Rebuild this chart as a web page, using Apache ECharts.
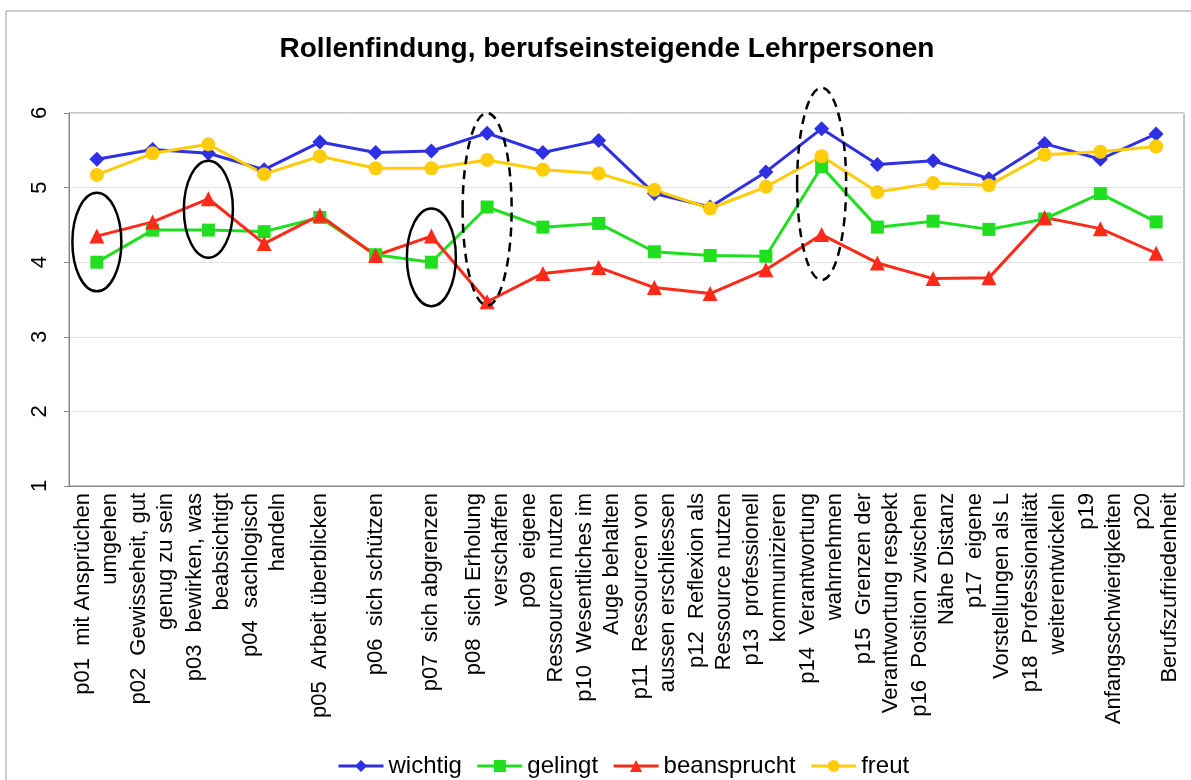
<!DOCTYPE html>
<html>
<head>
<meta charset="utf-8">
<title>Rollenfindung</title>
<script src="https://cdn.jsdelivr.net/npm/echarts@6/dist/echarts.min.js"></script>
<style>
  html, body { margin: 0; padding: 0; background: #fff; }
  #chart { width: 1191px; height: 780px; }
</style>
</head>
<body>
<div id="chart"></div>
<script>
// Kategorien (x-Achse)
var categories = [
  "p01  mit Ansprüchen\numgehen",
  "p02  Gewisseheit, gut\ngenug zu sein",
  "p03  bewirken, was\nbeabsichtigt",
  "p04  sachlogisch\nhandeln",
  "p05  Arbeit überblicken",
  "p06  sich schützen",
  "p07  sich abgrenzen",
  "p08  sich Erholung\nverschaffen",
  "p09  eigene\nRessourcen nutzen",
  "p10  Wesentliches im\nAuge behalten",
  "p11  Ressourcen von\naussen erschliessen",
  "p12  Reflexion als\nRessource nutzen",
  "p13  professionell\nkommunizieren",
  "p14  Verantwortung\nwahrnehmen",
  "p15  Grenzen der\nVerantwortung respekt",
  "p16  Position zwischen\nNähe Distanz",
  "p17  eigene\nVorstellungen als L",
  "p18  Professionalität\nweiterentwickeln",
  "p19\nAnfangsschwierigkeiten",
  "p20\nBerufszufriedenheit"
];

var yTicks = [1, 2, 3, 4, 5, 6];

var wichtig     = [5.38, 5.51, 5.46, 5.24, 5.61, 5.47, 5.49, 5.73, 5.47, 5.63, 4.92, 4.74, 5.21, 5.79, 5.31, 5.36, 5.12, 5.59, 5.38, 5.72];
var gelingt     = [4.00, 4.43, 4.43, 4.41, 4.60, 4.10, 4.00, 4.74, 4.47, 4.52, 4.14, 4.09, 4.08, 5.28, 4.47, 4.55, 4.44, 4.58, 4.92, 4.54];
var beansprucht = [4.35, 4.54, 4.85, 4.25, 4.63, 4.09, 4.35, 3.47, 3.85, 3.93, 3.66, 3.58, 3.90, 4.37, 3.99, 3.78, 3.79, 4.60, 4.45, 4.12];
var freut       = [5.17, 5.46, 5.58, 5.18, 5.42, 5.26, 5.26, 5.37, 5.24, 5.19, 4.97, 4.72, 5.01, 5.42, 4.94, 5.06, 5.03, 5.44, 5.48, 5.55];

// eingekreiste Stellen: Kategorie-Index, Wertebereich unten/oben, gestrichelt
var circled = [
  { idx: 0,  lo: 3.61, hi: 4.93, dashed: false },
  { idx: 2,  lo: 4.06, hi: 5.36, dashed: false },
  { idx: 6,  lo: 3.41, hi: 4.72, dashed: false },
  { idx: 7,  lo: 3.42, hi: 6.00, dashed: true },
  { idx: 13, lo: 3.76, hi: 6.34, dashed: true }
];

var font = "Liberation Sans, Arial, sans-serif";

var chart = echarts.init(document.getElementById("chart"));

function lineSeries(name, data, color, symbol, size) {
  return {
    name: name,
    type: "line",
    data: data,
    symbol: symbol,
    symbolSize: size,
    showAllSymbol: true,
    lineStyle: { color: color, width: 3 },
    itemStyle: { color: color },
    emphasis: { disabled: true }
  };
}

chart.setOption({
  backgroundColor: "#fff",
  animation: false,
  title: {
    text: "Rollenfindung, berufseinsteigende Lehrpersonen",
    left: 602,
    textAlign: "center",
    top: 30,
    textStyle: { fontFamily: font, fontSize: 28, fontWeight: "bold", color: "#000" }
  },
  legend: {
    left: 332,
    top: 749,
    itemWidth: 45,
    itemHeight: 15,
    itemGap: 14,
    selectedMode: false,
    lineStyle: { width: 3 },
    textStyle: { fontFamily: font, fontSize: 24, color: "#000" },
    data: ["wichtig", "gelingt", "beansprucht", "freut"]
  },
  grid: {
    left: 69,
    right: 7,
    top: 113,
    bottom: 294,
    show: true,
    borderColor: "#888",
    borderWidth: 1,
    containLabel: false
  },
  xAxis: {
    type: "category",
    data: categories,
    boundaryGap: true,
    axisLine: { show: true, lineStyle: { color: "#888" } },
    axisTick: { show: false },
    axisLabel: {
      interval: 0,
      rotate: 90,
      margin: 7,
      fontFamily: font,
      fontSize: 22,
      lineHeight: 27,
      color: "#000"
    }
  },
  yAxis: {
    type: "value",
    min: yTicks[0],
    max: yTicks[yTicks.length - 1],
    interval: 1,
    axisLine: { show: true, lineStyle: { color: "#888" } },
    axisTick: { show: true, length: 5, lineStyle: { color: "#888" } },
    axisLabel: {
      rotate: 90,
      margin: 18,
      fontFamily: font,
      fontSize: 22,
      color: "#000"
    },
    splitLine: { show: true, lineStyle: { color: "#e2e2e2", width: 1 } }
  },
  series: [
    lineSeries("wichtig", wichtig, "#2f2fe3", "diamond", 15),
    lineSeries("gelingt", gelingt, "#1fdf1f", "rect", 13),
    lineSeries("beansprucht", beansprucht, "#ff2a1a", "triangle", 15),
    lineSeries("freut", freut, "#ffcc0a", "circle", 14)
  ]
});

// Rahmen und Ellipsen über die Achsen positionieren
var elements = [{
  type: "rect",
  shape: { x: 6, y: 11, width: 1200, height: 800 },
  style: { fill: null, stroke: "#999", lineWidth: 1 },
  z: 0
}];
circled.forEach(function (c) {
  var top = chart.convertToPixel({ gridIndex: 0 }, [c.idx, c.hi]);
  var bot = chart.convertToPixel({ gridIndex: 0 }, [c.idx, c.lo]);
  elements.push({
    type: "ellipse",
    shape: { cx: top[0], cy: (top[1] + bot[1]) / 2, rx: 24.5, ry: (bot[1] - top[1]) / 2 },
    style: { fill: null, stroke: "#000", lineWidth: 2.5, lineDash: c.dashed ? [9, 6] : null },
    z: 100
  });
});
chart.setOption({ graphic: elements });
</script>
</body>
</html>
